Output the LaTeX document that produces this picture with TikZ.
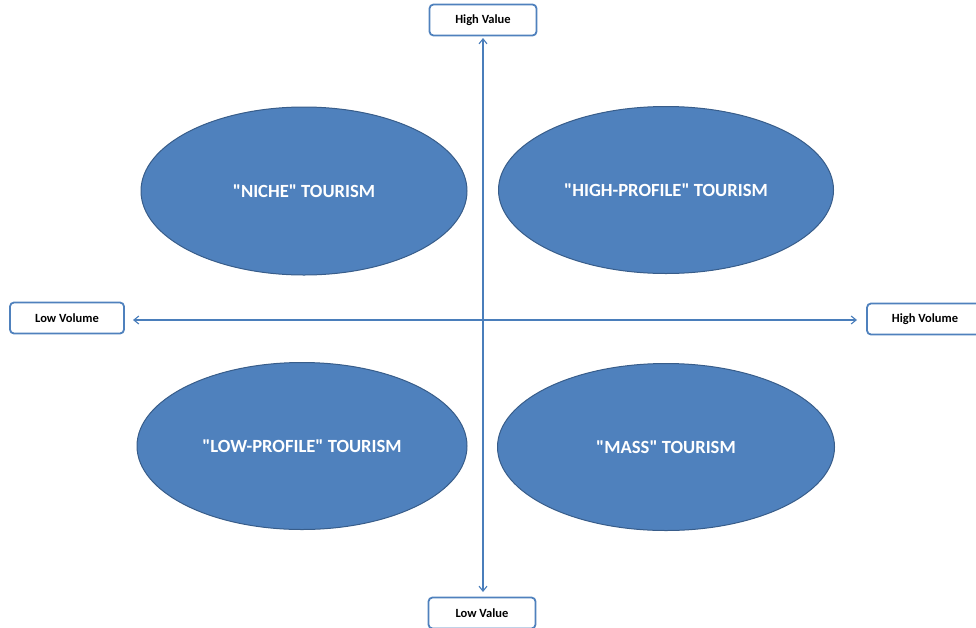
\documentclass[tikz,border=0pt]{standalone}
\usepackage{fontspec}
\setmainfont{Carlito}
\usetikzlibrary{arrows.meta,shapes.geometric}
\definecolor{fillblue}{HTML}{4F81BD}
\definecolor{edgeblue}{HTML}{385D8A}
\definecolor{axisblue}{HTML}{4A7EBB}
\tikzset{
  quad/.style={ellipse, fill=fillblue, draw=edgeblue, line width=1pt, text=white, font=\bfseries\fontsize{18.6}{21}\selectfont, inner sep=0pt},
  label box/.style={draw=fillblue, line width=1.8pt, rounded corners=4pt, fill=white, font=\bfseries\fontsize{12.5}{14}\selectfont, minimum height=31pt, inner sep=0pt},
  axis/.style={draw=axisblue, line width=1.1pt, {Straight Barb[length=5pt,width=8pt]}-{Straight Barb[length=5pt,width=8pt]}}
}
\newcommand{\qd}{\textquotedbl}
\begin{document}
\begin{tikzpicture}[x=1pt,y=-1pt]
\useasboundingbox (0,0) rectangle (976,627);
\begin{scope}
\clip (0,0) rectangle (976,627);
\node[label box, minimum width=107pt] (hv) at (483,20) {High Value};
\node[label box, minimum width=114pt] (lvol) at (67,318) {Low Volume};
\node[label box, minimum width=116pt] (hvol) at (925,319) {High Volume};
\node[label box, minimum width=107pt] (lval) at (482,613) {Low Value};
\coordinate (top) at (483,38);
\coordinate (bot) at (483,592);
\coordinate (left) at (133,320);
\coordinate (right) at (857,320);
\draw[axis] (bot) -- (top);
\draw[axis] (left) -- (right);
\node[quad, minimum width=326pt, minimum height=168pt] (niche) at (304,191) {\qd NICHE\qd{} TOURISM};
\node[quad, minimum width=335pt, minimum height=167pt] (high) at (666,190) {\qd HIGH-PROFILE\qd{} TOURISM};
\node[quad, minimum width=330pt, minimum height=167pt] (low) at (302,446) {\qd LOW-PROFILE\qd{} TOURISM};
\node[quad, minimum width=337pt, minimum height=167pt] (mass) at (666,447) {\qd MASS\qd{} TOURISM};
\end{scope}
\end{tikzpicture}
\end{document}
